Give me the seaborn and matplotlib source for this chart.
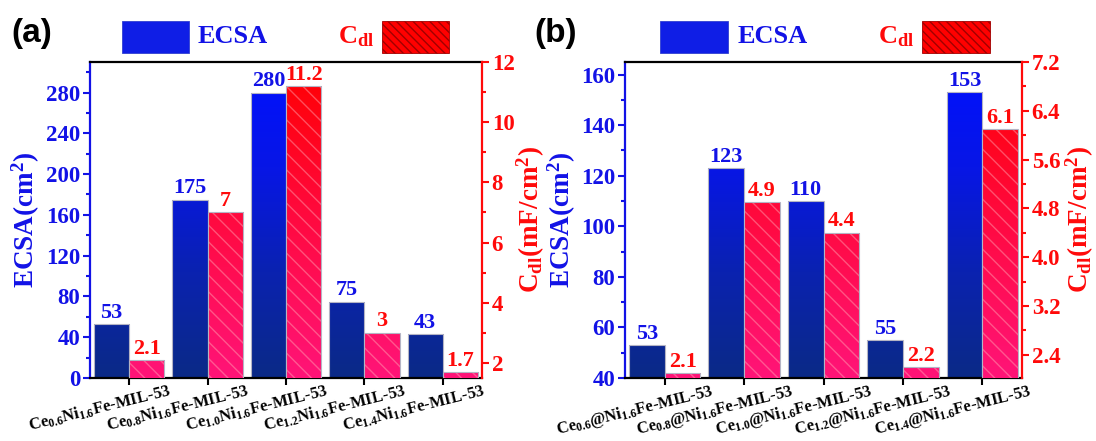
import numpy as np
import pandas as pd
import matplotlib
matplotlib.use("Agg")
import matplotlib.pyplot as plt
import matplotlib.transforms as mtransforms
from matplotlib.colors import LinearSegmentedColormap
from matplotlib.patches import Rectangle
from matplotlib.ticker import MultipleLocator, FormatStrFormatter
import seaborn as sns

# Samples of the two catalyst series
samples_a = [
    r"Ce$_{0.6}$Ni$_{1.6}$Fe-MIL-53",
    r"Ce$_{0.8}$Ni$_{1.6}$Fe-MIL-53",
    r"Ce$_{1.0}$Ni$_{1.6}$Fe-MIL-53",
    r"Ce$_{1.2}$Ni$_{1.6}$Fe-MIL-53",
    r"Ce$_{1.4}$Ni$_{1.6}$Fe-MIL-53",
]
samples_b = [
    r"Ce$_{0.6}$@Ni$_{1.6}$Fe-MIL-53",
    r"Ce$_{0.8}$@Ni$_{1.6}$Fe-MIL-53",
    r"Ce$_{1.0}$@Ni$_{1.6}$Fe-MIL-53",
    r"Ce$_{1.2}$@Ni$_{1.6}$Fe-MIL-53",
    r"Ce$_{1.4}$@Ni$_{1.6}$Fe-MIL-53",
]

# Electrochemical surface area (cm^2) and double-layer capacitance (mF/cm^2)
ecsa_a = [53, 175, 280, 75, 43]
cdl_a = [2.1, 7, 11.2, 3, 1.7]
ecsa_b = [53, 123, 110, 55, 153]
cdl_b = [2.1, 4.9, 4.4, 2.2, 6.1]

BLUE = "#1212e6"
RED = "#ff0a0a"
SERIF = ["Liberation Serif", "DejaVu Serif"]

sns.set_theme(style="ticks")
plt.rcParams.update({
    "font.family": SERIF,
    "font.serif": ["Liberation Serif", "DejaVu Serif"],
    "font.weight": "bold",
    "mathtext.fontset": "custom",
    "mathtext.rm": "Liberation Serif:bold",
    "mathtext.it": "Liberation Serif:italic:bold",
    "mathtext.bf": "Liberation Serif:bold",
    "mathtext.default": "rm",
    "axes.formatter.use_mathtext": False,
    "axes.linewidth": 1.6,
    "hatch.linewidth": 1.0,
    "axes.edgecolor": "black",
    "text.color": "black",
})

blue_cmap = LinearSegmentedColormap.from_list(
    "ecsa", ["#0b2a86", "#0a22b0", "#0716e6", "#0010ff"])
red_cmap = LinearSegmentedColormap.from_list(
    "cdl", ["#ff1478", "#ff0a40", "#ff0000"])


def fill_gradient(ax, cmap, hatch=None):
    """Replace the flat bar colour with a vertical gradient (and optional hatch)."""
    grad = np.linspace(0, 1, 256).reshape(-1, 1)
    for bar in list(ax.patches):
        h = bar.get_height()
        if not np.isfinite(h) or h == 0:
            continue
        im = ax.imshow(grad, cmap=cmap, origin="lower", extent=(0, 1, 0, 1),
                       transform=ax.transAxes, aspect="auto",
                       interpolation="bilinear", zorder=1.5)
        im.set_clip_path(bar)
        bar.set_facecolor("none")
        bar.set_edgecolor("#b4b4c4")
        bar.set_linewidth(0.8)
        bar.set_zorder(2)
        if hatch:
            ax.add_patch(Rectangle(bar.get_xy(), bar.get_width(), h,
                                   facecolor="none",
                                   edgecolor=(1, 0.68, 0.72, 0.45),
                                   linewidth=0, hatch=hatch, zorder=1.8))


def draw_panel(fig, ax, samples, ecsa, cdl, left_lim, left_major, left_minor,
               right_lim, right_major, right_minor, right_fmt, tag, tag_x,
               leg, left_pad, right_pad):
    n = len(samples)
    df = pd.DataFrame({
        "sample": samples + samples,
        "series": ["ECSA"] * n + ["Cdl"] * n,
        "ecsa": list(ecsa) + [np.nan] * n,
        "cdl": [np.nan] * n + list(cdl),
    })
    pal = {"ECSA": BLUE, "Cdl": RED}
    ax2 = ax.twinx()
    sns.barplot(data=df, x="sample", y="ecsa", hue="series",
                hue_order=["ECSA", "Cdl"], order=samples, palette=pal,
                width=0.9, errorbar=None, legend=False, ax=ax)
    sns.barplot(data=df, x="sample", y="cdl", hue="series",
                hue_order=["ECSA", "Cdl"], order=samples, palette=pal,
                width=0.9, errorbar=None, legend=False, ax=ax2)

    fill_gradient(ax, blue_cmap)
    fill_gradient(ax2, red_cmap, hatch=r"\\")

    for axis, color in ((ax, BLUE), (ax2, RED)):
        for c in axis.containers:
            hs = [p.get_height() for p in c]
            if len(hs) and all(np.isfinite(hs)):
                axis.bar_label(c, fmt="%g", padding=1, color=color,
                               fontsize=16, fontweight="bold", family=SERIF)

    ax.set_xlim(-0.5, n - 0.5)
    ax.set_ylim(*left_lim)
    ax2.set_ylim(*right_lim)
    ax.yaxis.set_major_locator(MultipleLocator(left_major))
    ax.yaxis.set_minor_locator(MultipleLocator(left_minor))
    ax.yaxis.set_major_formatter(FormatStrFormatter("%g"))
    ax2.yaxis.set_major_locator(MultipleLocator(right_major))
    ax2.yaxis.set_minor_locator(MultipleLocator(right_minor))
    ax2.yaxis.set_major_formatter(FormatStrFormatter(right_fmt))

    ax.set_xticks(range(n))
    ax.set_xticklabels([])
    ax.set_xlabel("")
    ax2.set_xlabel("")
    ax.tick_params(axis="x", which="major", direction="out", length=5,
                   width=1.5, color="black", bottom=True, top=False)
    ax.tick_params(axis="y", which="both", direction="out", colors=BLUE,
                   width=1.5, labelsize=16.5, pad=2, left=True, right=False)
    ax.tick_params(axis="y", which="major", length=5)
    ax.tick_params(axis="y", which="minor", length=3)
    ax2.tick_params(axis="y", which="both", direction="out", colors=RED,
                    width=1.5, labelsize=16.5, pad=2, right=True, left=False)
    ax2.tick_params(axis="y", which="major", length=5)
    ax2.tick_params(axis="y", which="minor", length=3)

    ax.spines["left"].set_color(BLUE)
    ax.spines["right"].set_visible(False)
    ax.spines["top"].set_color("black")
    ax.spines["bottom"].set_color("black")
    for side in ("left", "top", "bottom"):
        ax2.spines[side].set_visible(False)
    ax2.spines["right"].set_color(RED)
    for s in list(ax.spines.values()) + list(ax2.spines.values()):
        s.set_linewidth(1.6)

    ax.set_ylabel(r"ECSA(cm$^2$)", color=BLUE, fontsize=19.5,
                  fontweight="bold", family=SERIF, labelpad=left_pad)
    ax2.set_ylabel(r"C$_{dl}$(mF/cm$^2$)", color=RED, fontsize=19.5,
                   fontweight="bold", family=SERIF, labelpad=right_pad)

    # rotated sample names under the category ticks
    offset = mtransforms.ScaledTranslation(-0.295, -0.04, fig.dpi_scale_trans)
    trans = mtransforms.blended_transform_factory(ax.transData, ax.transAxes) + offset
    for i, s in enumerate(samples):
        ax.text(i, 0, s, transform=trans, rotation=14, ha="center", va="top",
                fontsize=12, fontweight="bold", family=SERIF, color="black")

    # legend keys above the frame
    bx, ex, cx, rx, w = leg
    ax.add_patch(Rectangle((bx, 1.028), w, 0.101, transform=ax.transAxes,
                           clip_on=False, facecolor="#0f1ee6",
                           edgecolor="#3040d0", linewidth=0.6))
    ax.text(ex, 1.079, "ECSA", transform=ax.transAxes, color=BLUE,
            fontsize=19, fontweight="bold", family=SERIF,
            ha="left", va="center")
    ax.text(cx, 1.079, r"C$_{dl}$", transform=ax.transAxes, color=RED,
            fontsize=19, fontweight="bold", family=SERIF,
            ha="right", va="center")
    ax.add_patch(Rectangle((rx, 1.028), w, 0.101, transform=ax.transAxes,
                           clip_on=False, facecolor="#ff0000",
                           edgecolor="#a00000", linewidth=0.6, hatch=r"\\\\"))

    fig.text(tag_x, 0.923, tag, family=["Liberation Sans", "DejaVu Sans"],
             fontweight="bold", fontsize=24, ha="left", va="center")

    for lbl in ax.get_yticklabels() + ax2.get_yticklabels():
        lbl.set_fontfamily(SERIF)
        lbl.set_fontweight("bold")
    return ax2


fig = plt.figure(figsize=(10.96, 4.41), dpi=100)
ax_a = fig.add_axes([0.0821, 0.1429, 0.3577, 0.7166])
ax_b = fig.add_axes([0.5703, 0.1429, 0.3622, 0.7166])

draw_panel(fig, ax_a, samples_a, ecsa_a, cdl_a,
           (0, 310), 40, 20, (1.5, 12), 2, 1, "%g", "(a)", 0.010,
           (0.0816, 0.2755, 0.7245, 0.745, 0.171), 3, 0)
draw_panel(fig, ax_b, samples_b, ecsa_b, cdl_b,
           (40, 165), 20, 10, (2.02, 7.2), 0.8, 0.4, "%.1f", "(b)", 0.488,
           (0.088, 0.2846, 0.728, 0.748, 0.171), 2, 2.5)

fig.savefig("out.png", dpi=100)
